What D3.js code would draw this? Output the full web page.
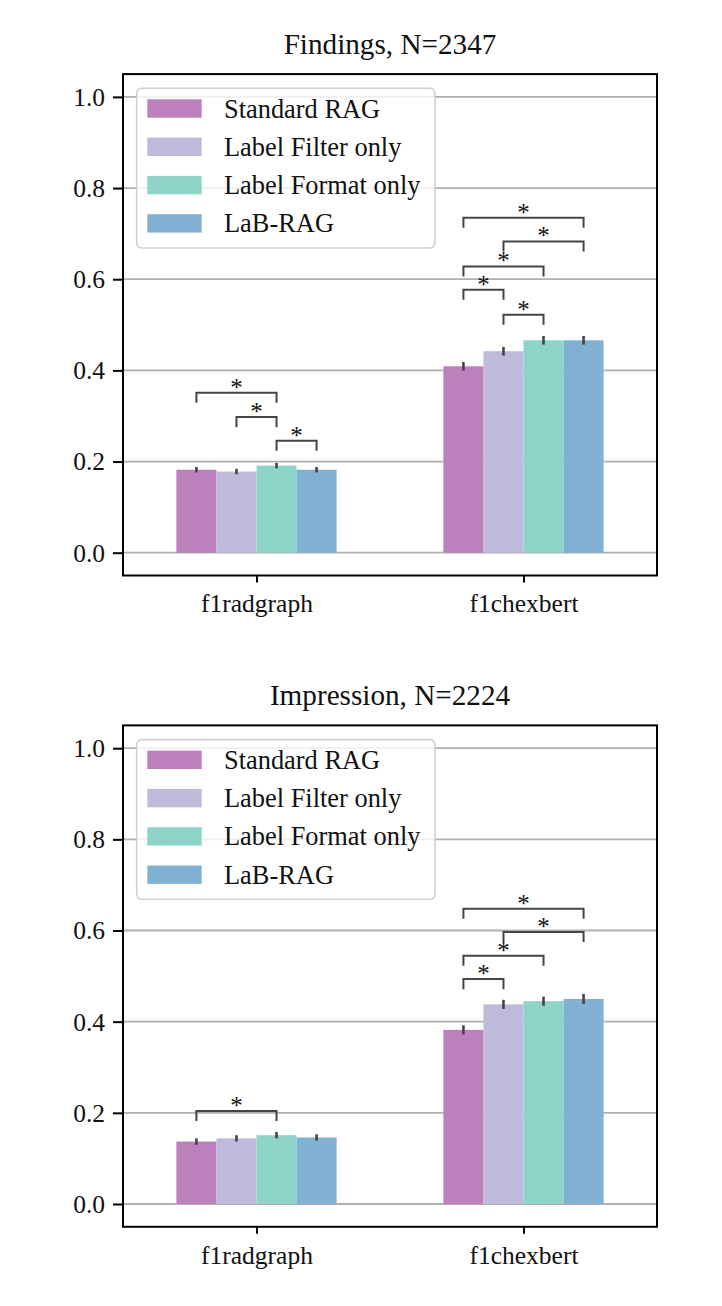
<!DOCTYPE html>
<html><head><meta charset="utf-8">
<script src="https://cdn.jsdelivr.net/npm/d3@7"></script>
<style>
html,body{margin:0;padding:0;background:#fff;}
svg{display:block;}
svg text{font-family:"Liberation Serif","Times New Roman",serif !important;}
</style></head>
<body>
<svg id="chart" width="722" height="1306"></svg>
<script>
const categories = ["f1radgraph", "f1chexbert"];
const methods = ["Standard RAG", "Label Filter only", "Label Format only", "LaB-RAG"];
const colors = ["#bc80bd", "#bebada", "#8dd3c7", "#80b1d3"];
const yTicks = [0.0, 0.2, 0.4, 0.6, 0.8, 1.0];

// Findings (per method: [f1radgraph, f1chexbert])
const findingsStandard = [0.182, 0.409];
const findingsFilter   = [0.178, 0.442];
const findingsFormat   = [0.191, 0.466];
const findingsLab      = [0.182, 0.466];
const findingsErrStandard = [0.006, 0.0095];
const findingsErrFilter   = [0.006, 0.0095];
const findingsErrFormat   = [0.006, 0.0095];
const findingsErrLab      = [0.006, 0.0095];

// Impression
const impressionStandard = [0.137, 0.382];
const impressionFilter   = [0.144, 0.438];
const impressionFormat   = [0.151, 0.445];
const impressionLab      = [0.146, 0.450];
const impressionErrStandard = [0.007, 0.010];
const impressionErrFilter   = [0.007, 0.010];
const impressionErrFormat   = [0.007, 0.010];
const impressionErrLab      = [0.007, 0.011];

// significance brackets: [category index, method a, method b, height]
const findingsSig = [
  [0, 0, 2, 0.351], [0, 1, 2, 0.2975], [0, 2, 3, 0.2456],
  [1, 0, 3, 0.735], [1, 1, 3, 0.683], [1, 0, 2, 0.628], [1, 0, 1, 0.577], [1, 1, 2, 0.522]
];
const impressionSig = [
  [0, 0, 2, 0.204],
  [1, 0, 3, 0.648], [1, 1, 3, 0.597], [1, 0, 2, 0.5445], [1, 0, 1, 0.4934]
];

const panels = [
  {title: "Findings, N=2347", top: 74.1,
   values: [findingsStandard, findingsFilter, findingsFormat, findingsLab],
   errs: [findingsErrStandard, findingsErrFilter, findingsErrFormat, findingsErrLab],
   sig: findingsSig},
  {title: "Impression, N=2224", top: 725.4,
   values: [impressionStandard, impressionFilter, impressionFormat, impressionLab],
   errs: [impressionErrStandard, impressionErrFilter, impressionErrFormat, impressionErrLab],
   sig: impressionSig}
];

const svg = d3.select("#chart");
const left = 123, right = 657, plotH = 501.4;
const barW = 0.15;
const legH = 0.022;

panels.forEach(p => {
  const g = svg.append("g");
  const x = d3.scaleLinear().domain([-0.5, 1.5]).range([left, right]);
  const y = d3.scaleLinear().domain([-0.05, 1.05]).range([p.top + plotH, p.top]);

  // grid
  g.append("g").selectAll("line").data(yTicks).join("line")
    .attr("x1", left).attr("x2", right)
    .attr("y1", d => y(d)).attr("y2", d => y(d))
    .attr("stroke", "#b0b0b0").attr("stroke-width", 1.8);

  // bars
  const barData = [];
  p.values.forEach((vals, mi) => vals.forEach((v, ci) => {
    barData.push({mi, ci, v, e: p.errs[mi][ci], xc: ci + (mi - 1.5) * barW});
  }));
  g.append("g").selectAll("rect").data(barData).join("rect")
    .attr("x", d => x(d.xc - barW / 2))
    .attr("width", d => x(d.xc + barW / 2) - x(d.xc - barW / 2))
    .attr("y", d => y(d.v))
    .attr("height", d => y(0) - y(d.v))
    .attr("fill", d => colors[d.mi]);

  // error bars
  g.append("g").selectAll("line").data(barData).join("line")
    .attr("x1", d => x(d.xc)).attr("x2", d => x(d.xc))
    .attr("y1", d => y(d.v - d.e)).attr("y2", d => y(d.v + d.e))
    .attr("stroke", "#444").attr("stroke-width", 2.6);

  // significance brackets
  const sg = g.append("g");
  p.sig.forEach(([ci, a, b, h]) => {
    const xa = x(ci + (a - 1.5) * barW), xb = x(ci + (b - 1.5) * barW);
    sg.append("path")
      .attr("d", d3.line()([[xa, y(h - legH)], [xa, y(h)], [xb, y(h)], [xb, y(h - legH)]]))
      .attr("fill", "none").attr("stroke", "#444").attr("stroke-width", 2);
    sg.append("text")
      .attr("x", (xa + xb) / 2).attr("y", y(h) + 3)
      .attr("text-anchor", "middle").attr("font-size", 25).attr("fill", "#111")
      .text("*");
  });

  // axes
  const yAxis = d3.axisLeft(y).tickValues(yTicks).tickFormat(d3.format(".1f")).tickSize(10).tickPadding(8);
  const ya = g.append("g").attr("transform", `translate(${left},0)`).call(yAxis);
  const xAxis = d3.axisBottom(x).tickValues([0, 1]).tickFormat(i => categories[i]).tickSize(7).tickPadding(10);
  const xa = g.append("g").attr("transform", `translate(0,${p.top + plotH})`).call(xAxis);
  [ya, xa].forEach(a => {
    a.attr("font-family", null).attr("font-size", null);
    a.select(".domain").remove();
    a.selectAll(".tick line").attr("stroke", "#000").attr("stroke-width", 2);
    a.selectAll(".tick text").attr("font-size", 25.5).attr("fill", "#111");
  });
  ya.selectAll(".tick text").attr("dy", "0.33em");
  xa.selectAll(".tick text").attr("dy", "0.78em");

  // frame
  g.append("rect").attr("x", left).attr("y", p.top).attr("width", right - left).attr("height", plotH)
    .attr("fill", "none").attr("stroke", "#000").attr("stroke-width", 2);

  // title
  g.append("text").attr("x", (left + right) / 2).attr("y", p.top - 20)
    .attr("text-anchor", "middle").attr("font-size", 29.2).attr("fill", "#111").text(p.title);

  // legend
  const lx = 136.7, ly = p.top + 14.2;
  const lg = g.append("g");
  lg.append("rect").attr("x", lx).attr("y", ly).attr("width", 298.3).attr("height", 159.7)
    .attr("rx", 5).attr("fill", "#fff").attr("fill-opacity", 0.8)
    .attr("stroke", "#d0d0d0").attr("stroke-width", 1.6);
  methods.forEach((m, i) => {
    const ry = ly + 11 + i * 38.3;
    lg.append("rect").attr("x", 147.3).attr("y", ry).attr("width", 54.4).attr("height", 18.4)
      .attr("fill", colors[i]);
    lg.append("text").attr("x", 224).attr("y", ry + 18.2)
      .attr("font-size", 26.4).attr("fill", "#111").text(m);
  });
});
</script>
</body></html>
